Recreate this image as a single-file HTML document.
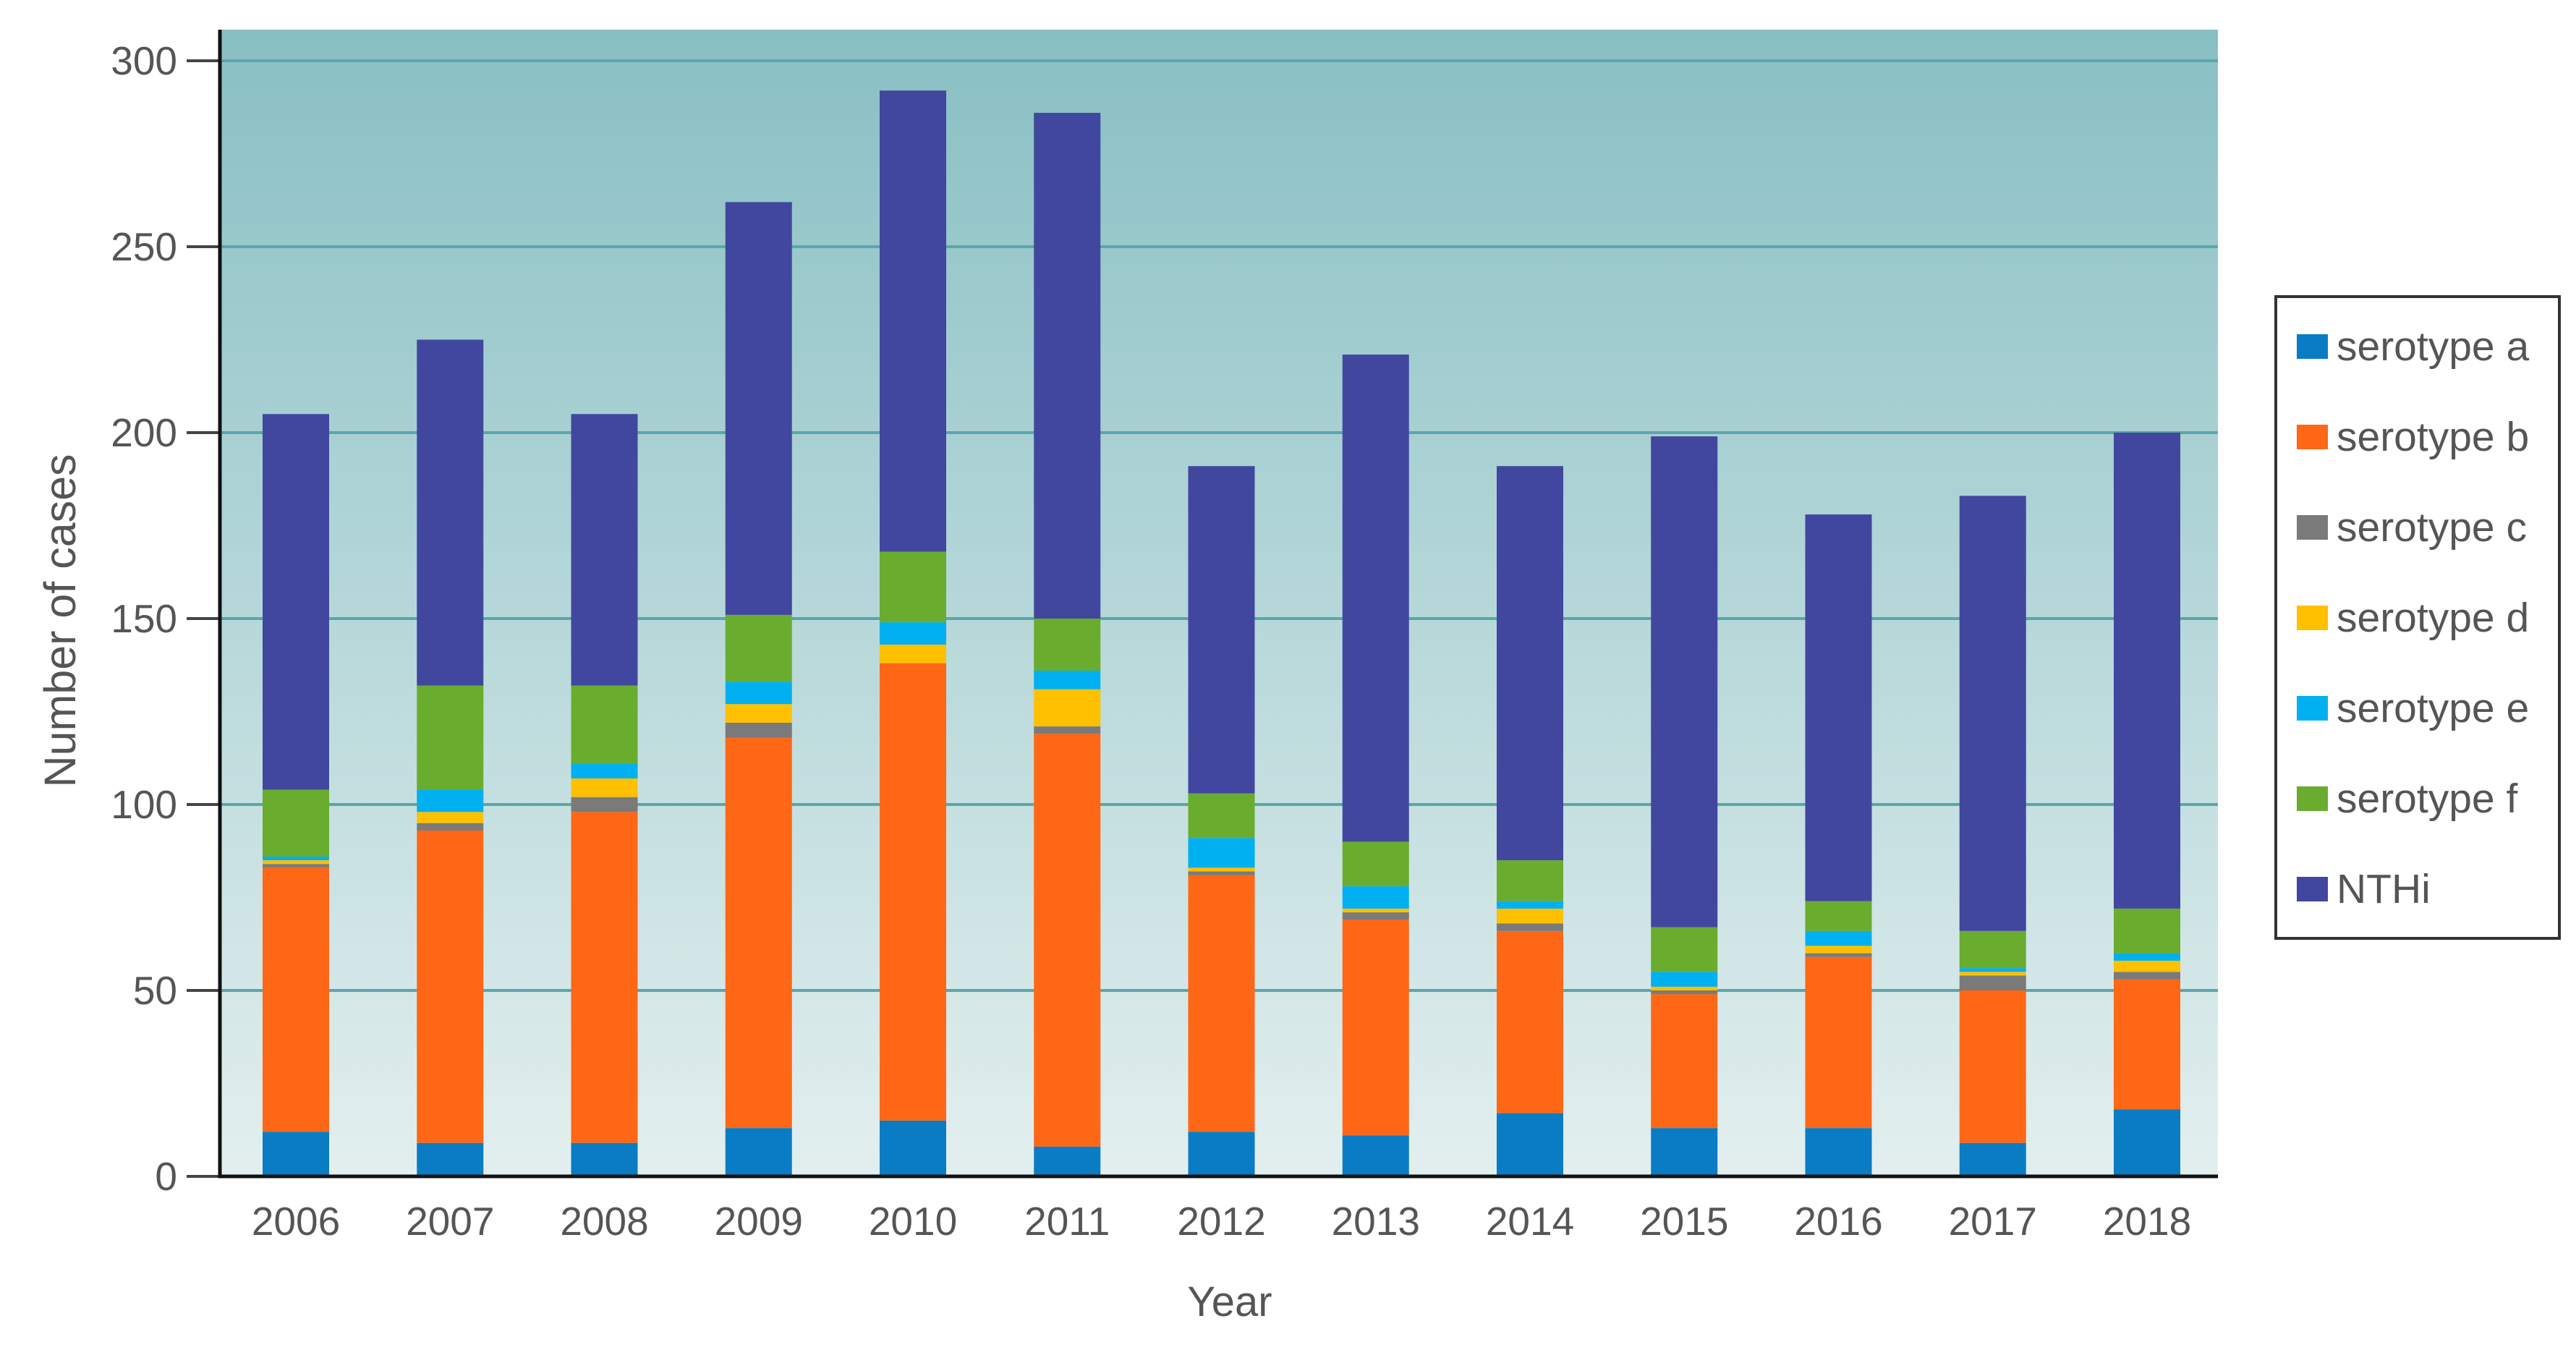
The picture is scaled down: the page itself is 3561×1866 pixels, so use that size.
<!DOCTYPE html>
<html><head><meta charset="utf-8"><style>
html,body{margin:0;padding:0;background:#fff;}
svg{display:block;font-family:"Liberation Sans",sans-serif;}
</style></head><body>
<svg id="chart" width="3561" height="1866" viewBox="0 0 3561 1866">
<defs><linearGradient id="bg" x1="0" y1="0" x2="0" y2="1">
<stop offset="0" stop-color="#88bfc3"/><stop offset="1" stop-color="#e3efef"/></linearGradient></defs>
<rect x="304" y="41" width="2762" height="1585" fill="url(#bg)"/>
<g id="grid"></g><g id="bars"></g><g id="axes"></g>
<g id="legend"></g>
</svg>
<script>
const years=["2006","2007","2008","2009","2010","2011","2012","2013","2014","2015","2016","2017","2018"];
const serA=[12,9,9,13,15,8,12,11,17,13,13,9,18];
const serB=[71,84,89,105,123,111,69,58,49,36,46,41,35];
const serC=[1,2,4,4,0,2,1,2,2,1,1,4,2];
const serD=[1,3,5,5,5,10,1,1,4,1,2,1,3];
const serE=[1,6,4,6,6,5,8,6,2,4,4,1,2];
const serF=[18,28,21,18,19,14,12,12,11,12,8,10,12];
const serN=[101,93,73,111,124,136,88,131,106,132,104,117,128];
const yTicks=[0,50,100,150,200,250,300];
const seriesNames=["serotype a","serotype b","serotype c","serotype d","serotype e","serotype f","NTHi"];
const seriesColors=["#0a7cc4","#fe6716","#7a7a7a","#ffc000","#00b0f0","#6aac2e","#41479f"];
const allSeries=[serA,serB,serC,serD,serE,serF,serN];

const NS="http://www.w3.org/2000/svg";
const y0=1626,y300=84,xL=304,xR=3066;
const yS=v=>y0-(y0-y300)*v/300;
const xS=i=>409+i*(2968-409)/(years.length-1);
const bw=92;
function mk(t,a,p){const e=document.createElementNS(NS,t);for(const k in a)e.setAttribute(k,a[k]);p.appendChild(e);return e;}
const grid=document.getElementById('grid'),bars=document.getElementById('bars'),axes=document.getElementById('axes'),leg=document.getElementById('legend');
yTicks.forEach(v=>{
 if(v>0){const g=mk('line',{x1:xL,x2:xR,y1:yS(v),y2:yS(v),stroke:'#5aa6ab','stroke-width':4},grid);
 
 }
 const tk=mk('line',{x1:258,x2:xL,y1:yS(v),y2:yS(v),stroke:'#444','stroke-width':4},axes);
 
 
 const t=mk('text',{x:245,y:yS(v)+19,'text-anchor':'end','font-size':55,fill:'#555'},axes);
 t.textContent=v;
 
 
});
years.forEach((yr,i)=>{
 let cum=0;
 allSeries.forEach((s,k)=>{
  const v=s[i];
  const r=mk('rect',{x:xS(i)-bw/2,y:yS(cum+v),width:bw,height:yS(cum)-yS(cum+v),fill:seriesColors[k]},bars);
  
  
  cum+=v;
 });
 const t=mk('text',{x:xS(i),y:1707,'text-anchor':'middle','font-size':55,fill:'#555'},axes);
 t.textContent=yr;
 
 
});
const ax1=mk('line',{x1:xL,x2:xL,y1:41,y2:y0+2,stroke:'#111','stroke-width':5},axes);


const ax2=mk('line',{x1:xL-2,x2:xR,y1:y0,y2:y0,stroke:'#111','stroke-width':5},axes);


const xt=mk('text',{x:1700,y:1819,'text-anchor':'middle','font-size':58,fill:'#555'},axes);
xt.textContent='Year';


const yt=mk('text',{x:0,y:0,'text-anchor':'middle','font-size':61,fill:'#555',transform:'translate(104,858) rotate(-90)'},axes);
yt.textContent='Number of cases';


const lb=mk('rect',{x:3146,y:410,width:392,height:887,fill:'#fff',stroke:'#333','stroke-width':4},leg);


seriesNames.forEach((n,k)=>{
 const cy=479+k*125;
 const sw=mk('rect',{x:3175,y:cy-17,width:43,height:34,fill:seriesColors[k]},leg);
 
 
 const t=mk('text',{x:3230,y:cy+19,'font-size':57,fill:'#555'},leg);
 t.textContent=n;
 
 
});
</script>
</body></html>
